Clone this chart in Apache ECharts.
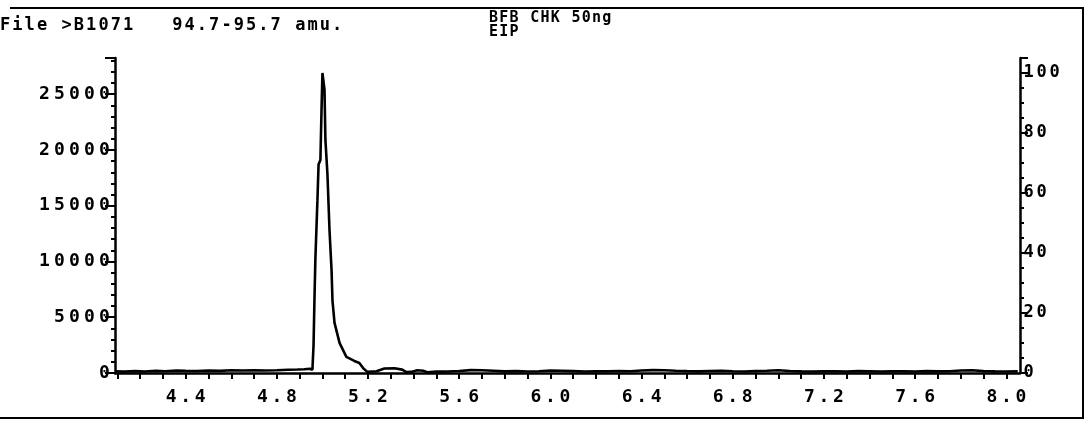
<!DOCTYPE html>
<html>
<head>
<meta charset="utf-8">
<script src="https://cdn.jsdelivr.net/npm/echarts@6/dist/echarts.min.js"></script>
<style>
  html, body { margin: 0; padding: 0; background: #fff; }
  #chart { width: 1087px; height: 424px; }
</style>
</head>
<body>
<div id="chart"></div>
<script>
// Ion chromatogram, m/z 94.7-95.7, retention time (min) vs. abundance
const times = [
  4.09, 4.13, 4.18, 4.22, 4.27, 4.31, 4.36, 4.40, 4.45, 4.50, 4.55, 4.60, 4.65, 4.70, 4.75,
  4.80, 4.85, 4.89, 4.92, 4.945, 4.956, 4.961, 4.965, 4.969, 4.978, 4.983, 4.991, 4.996,
  5.000, 5.009, 5.013, 5.022, 5.031, 5.040, 5.044, 5.053, 5.075, 5.105, 5.140, 5.162,
  5.180, 5.197, 5.237, 5.272, 5.316, 5.350, 5.368, 5.390, 5.416, 5.442, 5.460, 5.50,
  5.55, 5.60, 5.65, 5.70, 5.75, 5.80, 5.85, 5.90, 5.95, 6.00, 6.05, 6.10, 6.15, 6.20,
  6.25, 6.30, 6.35, 6.40, 6.45, 6.50, 6.55, 6.60, 6.65, 6.70, 6.75, 6.80, 6.85, 6.90,
  6.95, 7.00, 7.05, 7.10, 7.15, 7.20, 7.25, 7.30, 7.35, 7.40, 7.45, 7.50, 7.55, 7.60,
  7.65, 7.70, 7.75, 7.80, 7.85, 7.90, 7.95, 8.00, 8.05
];
const abundance = [
  150, 120, 170, 140, 190, 160, 210, 190, 170, 210, 190, 240, 220, 250, 230,
  240, 290, 310, 340, 380, 300, 2500, 6600, 10200, 15500, 18700, 19100, 23600,
  26900, 25400, 20900, 17800, 12800, 9200, 6500, 4500, 2700, 1440, 1080, 900,
  400, 100, 150, 400, 420, 300, 80, 100, 250, 200, 60, 120,
  140, 180, 260, 240, 200, 150, 170, 130, 160, 220, 200, 170, 140, 160,
  150, 180, 160, 230, 260, 240, 200, 170, 150, 180, 200, 160, 140, 170,
  200, 250, 180, 150, 130, 160, 150, 140, 170, 150, 130, 160, 150, 140,
  170, 150, 160, 220, 240, 170, 150, 140, 150
];

// Axis labels
const timeLabels = [4.4, 4.8, 5.2, 5.6, 6.0, 6.4, 6.8, 7.2, 7.6, 8.0];
const countLabels = [0, 5000, 10000, 15000, 20000, 25000];
const percentLabels = [0, 20, 40, 60, 80, 100];

// Header text
const headerLeft = "File >B1071   94.7-95.7 amu.";
const headerRight = "BFB CHK 50ng";
const headerSub = "EIP";

const peakTop = 26900;          // largest abundance = 100 %
const pctMax = 105;             // relative axis runs a bit above 100 %
const countMax = peakTop * pctMax / 100;

const timeTicks = [];
for (let t = 41; t <= 80; t++) timeTicks.push(t / 10);

const FONT = '"DejaVu Sans Mono", monospace';

// plotter-style lettering: every character sits in a fixed-width cell
function cells(str, key) {
  return str.split('').map(c => '{' + key + '|' + c + '}').join('');
}
function cellStyle(w, size) {
  return { width: w, align: 'center', fontFamily: FONT, fontWeight: 'bold', fontSize: size, color: '#000' };
}

const chart = echarts.init(document.getElementById('chart'), null, { renderer: 'canvas' });

const data = times.map((t, i) => [t, abundance[i]]);

chart.setOption({
  animation: false,
  backgroundColor: '#fff',
  grid: { left: 115, right: 67, top: 58, bottom: 51 },
  xAxis: {
    type: 'value',
    min: 4.09,
    max: 8.06,
    axisLine: { show: true, lineStyle: { color: '#000', width: 2.5 } },
    axisTick: { show: true, customValues: timeTicks, length: 6, lineStyle: { color: '#000', width: 2 } },
    axisLabel: {
      customValues: timeLabels,
      margin: 15,
      formatter: v => cells(Number(v).toFixed(1), 'c'),
      rich: { c: cellStyle(14.5, 18) }
    },
    splitLine: { show: false }
  },
  yAxis: [
    {
      type: 'value',
      min: 0,
      max: countMax,
      interval: 5000,
      position: 'left',
      axisLine: { show: true, lineStyle: { color: '#000', width: 2.5 } },
      axisTick: { show: true, length: 10, lineStyle: { color: '#000', width: 2 } },
      minorTick: { show: true, splitNumber: 5, length: 4, lineStyle: { color: '#000', width: 2 } },
      axisLabel: {
        margin: 3,
        showMaxLabel: false,
        formatter: v => countLabels.indexOf(v) >= 0 ? cells(String(v), 'c') : '',
        rich: { c: cellStyle(15, 18) }
      },
      splitLine: { show: false }
    },
    {
      type: 'value',
      min: 0,
      max: pctMax,
      interval: 20,
      position: 'right',
      axisLine: { show: true, lineStyle: { color: '#000', width: 2.5 } },
      axisTick: { show: true, length: 8, lineStyle: { color: '#000', width: 2 } },
      minorTick: { show: true, splitNumber: 4, length: 4, lineStyle: { color: '#000', width: 2 } },
      axisLabel: {
        margin: 2,
        showMaxLabel: false,
        formatter: v => percentLabels.indexOf(v) >= 0 ? cells(String(v), 'c') : '',
        rich: { c: cellStyle(13, 17) }
      },
      splitLine: { show: false }
    }
  ],
  series: [{
    type: 'line',
    yAxisIndex: 0,
    data: data,
    showSymbol: false,
    smooth: false,
    lineStyle: { color: '#000', width: 2.6 },
    z: 3
  }],
  graphic: [
    // page frame
    { type: 'polyline', silent: true,
      shape: { points: [[10, 8], [1083, 8], [1083, 418], [0, 418]] },
      style: { stroke: '#000', lineWidth: 2, fill: null } },
    { type: 'text', left: 0, top: 17,
      style: { text: cells(headerLeft, 'h'), rich: { h: cellStyle(12.3, 17) } } },
    { type: 'text', left: 489, top: 11,
      style: { text: cells(headerRight, 'r'), rich: { r: cellStyle(10.3, 15) } } },
    { type: 'text', left: 489, top: 25,
      style: { text: cells(headerSub, 'r'), rich: { r: cellStyle(10.3, 15) } } }
  ]
});
</script>
</body>
</html>
